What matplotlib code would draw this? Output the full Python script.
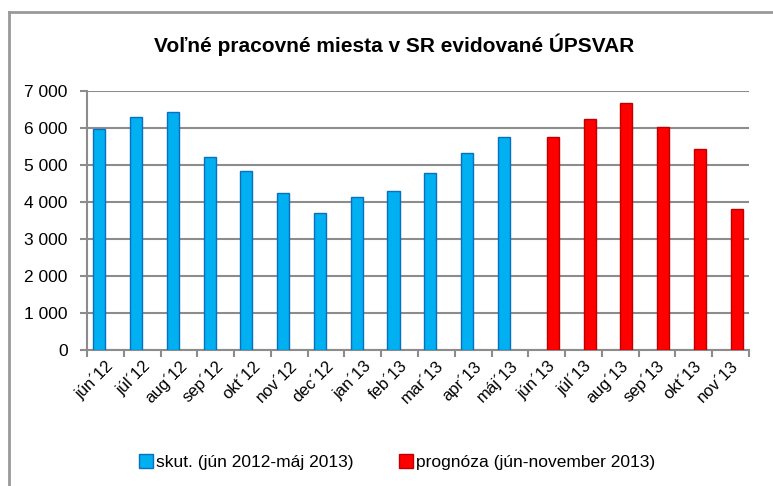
import matplotlib
matplotlib.use("Agg")
import matplotlib.pyplot as plt
from matplotlib.lines import Line2D
from matplotlib.patches import Patch
import numpy as np

plt.rcParams['font.family'] = ['Liberation Sans', 'DejaVu Sans']

months = ["jún", "júl", "aug", "sep", "okt", "nov", "dec", "jan", "feb", "mar", "apr", "máj",
          "jún", "júl", "aug", "sep", "okt", "nov"]
years = ["12", "12", "12", "12", "12", "12", "12", "13", "13", "13", "13", "13",
         "13", "13", "13", "13", "13", "13"]
labels = [f"{m}\u00b4{y}" for m, y in zip(months, years)]

actual = [5970, 6290, 6440, 5210, 4830, 4235, 3705, 4125, 4290, 4785, 5315, 5755]
forecast = [5755, 6245, 6665, 6020, 5425, 3800]

title = "Voľné pracovné miesta v SR evidované ÚPSVAR"
legend_actual = "skut. (jún 2012-máj 2013)"
legend_forecast = "prognóza (jún-november 2013)"

fig = plt.figure(figsize=(7.73, 4.86), dpi=100)
ax = fig.add_axes([0.1125, 0.2798, 0.8565, 0.533])

w = 0.33
x_act = np.arange(len(actual))
x_fc = np.arange(len(actual), len(actual) + len(forecast))
ax.bar(x_act - w / 2, actual, width=w, color="#00B0F0", edgecolor="#0A6FC0", linewidth=1.0, zorder=3)
ax.bar(x_fc + w / 2, forecast, width=w, color="#FF0000", edgecolor="#C00000", linewidth=1.0, zorder=3)

ax.set_xlim(-0.5, len(labels) - 0.5)
ax.set_ylim(0, 7000)
ax.set_yticks(range(0, 7001, 1000))
ax.set_yticklabels([f"{v:,}".replace(",", " ") for v in range(0, 7001, 1000)], fontsize=12.5)
ax.yaxis.grid(True, color="#8C8C8C", linewidth=1.5, zorder=0)
ax.set_axisbelow(True)

ax.set_xticks(np.arange(len(labels)))
ax.set_xticklabels(labels, rotation=45, ha="right", rotation_mode="anchor", fontsize=12)
ax.tick_params(axis="x", which="major", length=0, pad=6)
ax.set_xticks(np.arange(-0.5, len(labels), 1.0), minor=True)
ax.tick_params(axis="x", which="minor", length=5, width=1.5, color="#8C8C8C", direction="out")
ax.tick_params(axis="y", length=5, width=1.5, color="#8C8C8C", direction="out", pad=9)

for s in ["top", "right"]:
    ax.spines[s].set_visible(False)
for s in ["left", "bottom"]:
    ax.spines[s].set_color("#8C8C8C")
    ax.spines[s].set_linewidth(1.5)

fig.text(0.51, 0.907, title, ha="center", va="center", fontsize=15, fontweight="bold")

handles = [Patch(facecolor="#00B0F0", edgecolor="#0A6FC0"),
           Patch(facecolor="#FF0000", edgecolor="#C00000")]
fig.legend(handles, [legend_actual, legend_forecast], loc="center", bbox_to_anchor=(0.514, 0.049),
           ncol=2, frameon=False, fontsize=12.5, handlelength=0.8, handleheight=0.8,
           handletextpad=0.2, columnspacing=2.6)

# outer chart frame (left and top edges visible)
fig.add_artist(Line2D([0.0117, 0.0117], [0, 0.975], transform=fig.transFigure, color="#999999", linewidth=2))
fig.add_artist(Line2D([0.0117, 1.0], [0.975, 0.975], transform=fig.transFigure, color="#999999", linewidth=2))

fig.savefig("out.png", dpi=100)
